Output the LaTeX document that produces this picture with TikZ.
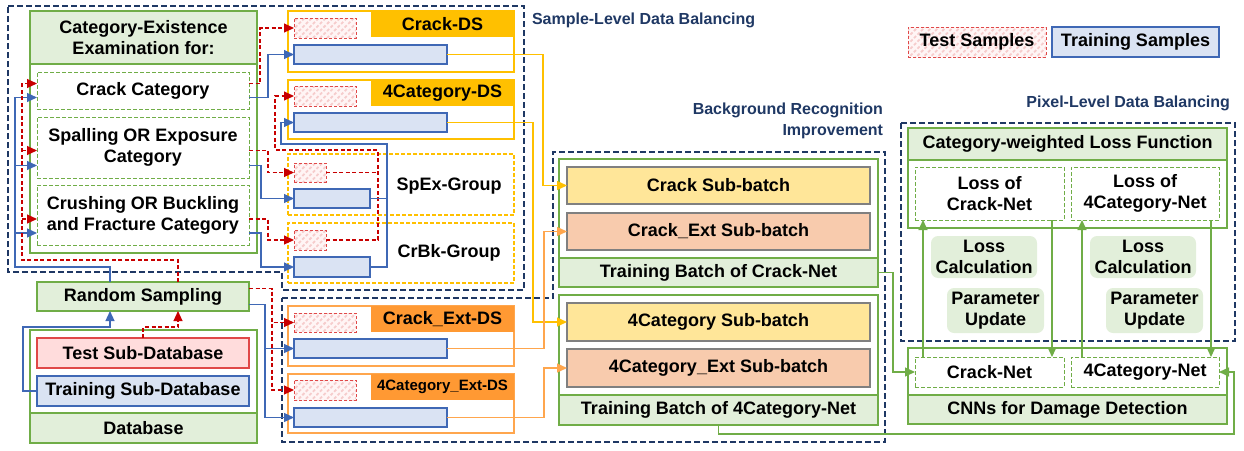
\documentclass[tikz,border=0pt]{standalone}
\usepackage{fontspec}
\setmainfont{Liberation Sans}
\usetikzlibrary{arrows.meta,patterns.meta}

\definecolor{grnline}{HTML}{70AD47}
\definecolor{grnfill}{HTML}{E2EFDA}
\definecolor{bluline}{HTML}{3F68B5}
\definecolor{blufill}{HTML}{DAE3F3}
\definecolor{redline}{HTML}{C80000}
\definecolor{testred}{HTML}{E04848}
\definecolor{testfill}{HTML}{FFDCDC}
\definecolor{yelline}{HTML}{FFC000}
\definecolor{subyel}{HTML}{FFE699}
\definecolor{orgline}{HTML}{FFA64D}
\definecolor{orgfill}{HTML}{FF9933}
\definecolor{suborg}{HTML}{F8CBAD}
\definecolor{navy}{HTML}{1F3864}

\tikzset{
  region/.style={draw=navy, line width=1.6pt, dash pattern=on 6pt off 3pt},
  regionlabel/.style={text=navy, font=\fontsize{16}{21}\selectfont\bfseries},
  gbox/.style={draw=grnline, fill=grnfill, line width=1.3pt, anchor=north west, align=center},
  gframe/.style={draw=grnline, fill=white, line width=1.3pt, anchor=north west},
  gdash/.style={draw=grnline, fill=white, line width=1pt, dash pattern=on 4pt off 2pt, anchor=north west, align=center},
  testbox/.style={draw=testred, line width=1pt, dash pattern=on 3pt off 2pt, preaction={fill=red!4}, pattern={Lines[angle=45,distance=5pt,line width=1.8pt]}, pattern color=testred!28, anchor=north west},
  trainbox/.style={draw=bluline, fill=blufill, line width=1.2pt, anchor=north west},
  dsframe/.style={line width=1.3pt, fill=white, anchor=north west},
  dslabel/.style={anchor=north east, inner sep=1pt},
  subbatch/.style={draw=gray, line width=1.2pt, anchor=north west},
  softbox/.style={fill=grnfill, rounded corners=7pt, anchor=north west, align=center},
  tsarr/.style={draw=redline, line width=1.1pt, dash pattern=on 4pt off 2.5pt, -{Triangle[length=10pt,width=9pt]}},
  trarr/.style={draw=bluline, line width=1.2pt, -{Triangle[length=10pt,width=9pt]}},
  yelarr/.style={draw=yelline, line width=1.2pt, -{Triangle[length=10pt,width=9pt]}},
  orgarr/.style={draw=orgline, line width=1.2pt, -{Triangle[length=10pt,width=9pt]}},
  grnarr/.style={draw=grnline, line width=1.2pt, -{Triangle[length=10pt,width=9pt]}}
}

\begin{document}
\begin{tikzpicture}[x=1pt,y=-1pt,inner sep=1pt,outer sep=0pt,font=\fontsize{18}{21}\selectfont\bfseries]
\useasboundingbox (0,0) rectangle (1244,450);

% regions
\draw[region] (8,6) -- (524,6) -- (524,290) -- (282,290) -- (282,272) -- (8,272) -- cycle;
\draw[region] (282,298) -- (553,298) -- (553,152) -- (885,152) -- (885,442) -- (282,442) -- cycle;
\draw[region] (901,123) rectangle (1235,341);
\node[regionlabel, anchor=west] (slbl) at (531,20) {Sample-Level Data Balancing};
\node[regionlabel, anchor=east, align=right] (blbl) at (884,121) {Background Recognition\\Improvement};
\node[regionlabel, anchor=east] (plbl) at (1231,103) {Pixel-Level Data Balancing};

% legend
\node[testbox, minimum width=138, minimum height=30] (lgt) at (908,27) {Test Samples};
\node[trainbox, minimum width=167, minimum height=30] (lgr) at (1052,27) {Training Samples};

% category existence
\node[gframe, minimum width=227, minimum height=242] (cef) at (30,11) {};
\node[gbox, minimum width=227, minimum height=53] (ceh) at (30,11) {Category-Existence\\Examination for:};
\node[gdash, minimum width=212, minimum height=37] (cc) at (37,72) {Crack Category};
\node[gdash, minimum width=212, minimum height=61] (sp) at (37,117) {Spalling OR Exposure\\Category};
\node[gdash, minimum width=212, minimum height=60] (cr) at (37,185) {Crushing OR Buckling\\and Fracture Category};

% database
\node[gbox, minimum width=212, minimum height=29] (rs) at (37,282) {Random Sampling};
\node[gframe, minimum width=227, minimum height=113] (dbf) at (30,330) {};
\node[draw=testred, fill=testfill, line width=1.2pt, anchor=north west, minimum width=212, minimum height=30] (tsd) at (37,338) {Test Sub-Database};
\node[trainbox, minimum width=212, minimum height=30] (trd) at (37,376) {Training Sub-Database};
\node[gbox, minimum width=227, minimum height=30] (db) at (30,413) {Database};

% data sets
\node[dsframe, draw=yelline, minimum width=226, minimum height=61] (cds) at (288,11) {};
\node[dslabel, fill=yelline, minimum width=143, minimum height=26] (cdsl) at (cds.north east) {Crack-DS};
\node[testbox, minimum width=62, minimum height=20] (cdst) at (294,18) {};
\node[trainbox, minimum width=153, minimum height=19] (cdsr) at (294,45) {};

\node[dsframe, draw=yelline, minimum width=226, minimum height=59] (c4ds) at (288,80) {};
\node[dslabel, fill=yelline, minimum width=143, minimum height=26] (c4dsl) at (c4ds.north east) {4Category-DS};
\node[testbox, minimum width=62, minimum height=20] (c4dst) at (294,86) {};
\node[trainbox, minimum width=153, minimum height=19] (c4dsr) at (294,113) {};

\node[dsframe, draw=yelline, dash pattern=on 4pt off 2pt, minimum width=226, minimum height=61] (spg) at (288,154) {};
\node (spgl) at (449,186) {SpEx-Group};
\node[testbox, minimum width=32, minimum height=19] (spt) at (294,163) {};
\node[trainbox, minimum width=76, minimum height=19] (spr) at (294,189) {};

\node[dsframe, draw=yelline, dash pattern=on 4pt off 2pt, minimum width=226, minimum height=60] (crg) at (288,223) {};
\node (crgl) at (449,253) {CrBk-Group};
\node[testbox, minimum width=32, minimum height=20] (crt) at (294,230) {};
\node[trainbox, minimum width=76, minimum height=20] (crr) at (294,257) {};

\node[dsframe, draw=orgline, minimum width=226, minimum height=60] (ceds) at (288,306) {};
\node[dslabel, fill=orgfill, minimum width=143, minimum height=26] (cedsl) at (ceds.north east) {Crack\_Ext-DS};
\node[testbox, minimum width=62, minimum height=19] (cedst) at (294,313) {};
\node[trainbox, minimum width=153, minimum height=19] (cedsr) at (294,339) {};

\node[dsframe, draw=orgline, minimum width=226, minimum height=59] (c4eds) at (288,374) {};
\node[dslabel, fill=orgfill, minimum width=143, minimum height=26, font=\fontsize{15}{18}\selectfont\bfseries] (c4edsl) at (c4eds.north east) {4Category\_Ext-DS};
\node[testbox, minimum width=62, minimum height=20] (c4edst) at (294,380) {};
\node[trainbox, minimum width=153, minimum height=19] (c4edsr) at (294,408) {};

% training batches
\node[gframe, minimum width=319, minimum height=128] (tbc) at (559,159) {};
\node[subbatch, fill=subyel, minimum width=303, minimum height=37] (csb) at (567,167) {Crack Sub-batch};
\node[subbatch, fill=suborg, minimum width=303, minimum height=37] (cesb) at (567,213) {Crack\_Ext Sub-batch};
\node[gbox, minimum width=319, minimum height=29] (tbcl) at (559,258) {Training Batch of Crack-Net};
\node[gframe, minimum width=319, minimum height=130] (tb4) at (559,295) {};
\node[subbatch, fill=subyel, minimum width=303, minimum height=38] (c4sb) at (567,303) {4Category Sub-batch};
\node[subbatch, fill=suborg, minimum width=303, minimum height=38] (c4esb) at (567,349) {4Category\_Ext Sub-batch};
\node[gbox, minimum width=319, minimum height=30] (tb4l) at (559,395) {Training Batch of 4Category-Net};

% loss function and networks
\node[gframe, minimum width=319, minimum height=100] (lff) at (908,128) {};
\node[gbox, minimum width=319, minimum height=32] (lfh) at (908,128) {Category-weighted Loss Function};
\node[gdash, minimum width=149, minimum height=53] (lcn) at (915,167) {Loss of\\Crack-Net};
\node[gdash, minimum width=148, minimum height=53] (l4n) at (1071,167) {Loss of\\4Category-Net};
\node[softbox, minimum width=106, minimum height=42] (lc1) at (931,236) {Loss\\Calculation};
\node[softbox, minimum width=106, minimum height=42] (lc2) at (1090,236) {Loss\\Calculation};
\node[softbox, minimum width=97, minimum height=45] (pu1) at (947,288) {Parameter\\Update};
\node[softbox, minimum width=97, minimum height=45] (pu2) at (1106,288) {Parameter\\Update};
\node[gframe, minimum width=319, minimum height=76] (cnf) at (908,348) {};
\node[gdash, minimum width=149, minimum height=30] (cn) at (915,357) {Crack-Net};
\node[gdash, minimum width=148, minimum height=30] (c4n) at (1071,357) {4Category-Net};
\node[gbox, minimum width=319, minimum height=29] (cnl) at (908,395) {CNNs for Damage Detection};

% database to random sampling
\draw[trarr] (trd.west) -- ++(-14,0) |- ([xshift=-33pt,yshift=-16pt]rs.south) -- ([xshift=-33pt]rs.south);
\draw[tsarr] (tsd.north) |- ([xshift=35pt,yshift=-16pt]rs.south) -- ([xshift=35pt]rs.south);

% random sampling to categories
\coordinate (bb) at (15,267);
\coordinate (rb) at (22,260);
\path ([yshift=-18pt]sp.west) coordinate (spin) ([yshift=-18pt]cr.west) coordinate (crin);
\path ([yshift=-3pt]sp.west) coordinate (spinr) ([yshift=-4pt]cr.west) coordinate (crinr);
\draw[trarr] ([xshift=-33pt]rs.north) |- (bb) |- ([yshift=-7pt]cc.west);
\draw[trarr] (bb |- spin) -- (spin);
\draw[trarr] (bb |- crin) -- (crin);
\draw[tsarr] ([xshift=35pt]rs.north) |- (rb) |- ([yshift=7pt]cc.west);
\draw[tsarr] (rb |- spinr) -- (spinr);
\draw[tsarr] (rb |- crinr) -- (crinr);

% categories to data sets
\draw[tsarr] ([yshift=7pt]cc.east) -- ++(11,0) |- (cdst.west);
\draw[trarr] ([yshift=-7pt]cc.east) -- ++(19,0) |- (cdsr.west);
\draw[tsarr] ([yshift=-3pt]sp.east) -- ++(19,0) |- (spt.west);
\draw[trarr] ([yshift=-18pt]sp.east) -- ++(12,0) |- (spr.west);
\draw[tsarr] ([yshift=-4pt]cr.east) -- ++(19,0) |- (crt.west);
\draw[trarr] ([yshift=-18pt]cr.east) -- ++(12,0) |- (crr.west);

% groups to 4Category-DS
\draw[tsarr, -] (spt.east) -- ++(52,0);
\draw[tsarr] (crt.east) -- ++(52,0) |- (275,150) |- (c4dst.west);
\draw[trarr, -] (spr.east) -- ++(17,0);
\draw[trarr] (crr.east) -- ++(17,0) |- (281,144) |- (c4dsr.west);

% random sampling to extended data sets
\draw[tsarr] ([yshift=8pt]rs.east) -- ++(23,0) |- (cedst.west);
\draw[tsarr] ([yshift=8pt]rs.east) -- ++(23,0) |- (c4edst.west);
\draw[trarr] ([yshift=-8pt]rs.east) -- ++(16,0) |- (cedsr.west);
\draw[trarr] ([yshift=-8pt]rs.east) -- ++(16,0) |- (c4edsr.west);

% data sets to sub-batches
\draw[yelarr] (cdsr.east) -- ++(96,0) |- (csb.west);
\draw[yelarr] (c4dsr.east) -- ++(86,0) |- (c4sb.west);
\draw[orgarr] (cedsr.east) -- ++(97,0) |- (cesb.west);
\draw[orgarr] (c4edsr.east) -- ++(97,0) |- (c4esb.west);

% batches to networks
\draw[grnarr] (tbcl.east) -- ++(15,0) |- (cn.west);
\draw[grnarr] (tb4.south) -- ++(0,9) -| ([xshift=15pt]c4n.east) -- (c4n.east);

% loss loop
\draw[grnarr] ([xshift=8pt]cn.north west) -- ([xshift=8pt]lcn.south west);
\draw[grnarr] ([xshift=-12pt]lcn.south east) -- ([xshift=-12pt]cn.north east);
\draw[grnarr] ([xshift=11pt]c4n.north west) -- ([xshift=11pt]l4n.south west);
\draw[grnarr] ([xshift=-8pt]l4n.south east) -- ([xshift=-8pt]c4n.north east);
\end{tikzpicture}
\end{document}
